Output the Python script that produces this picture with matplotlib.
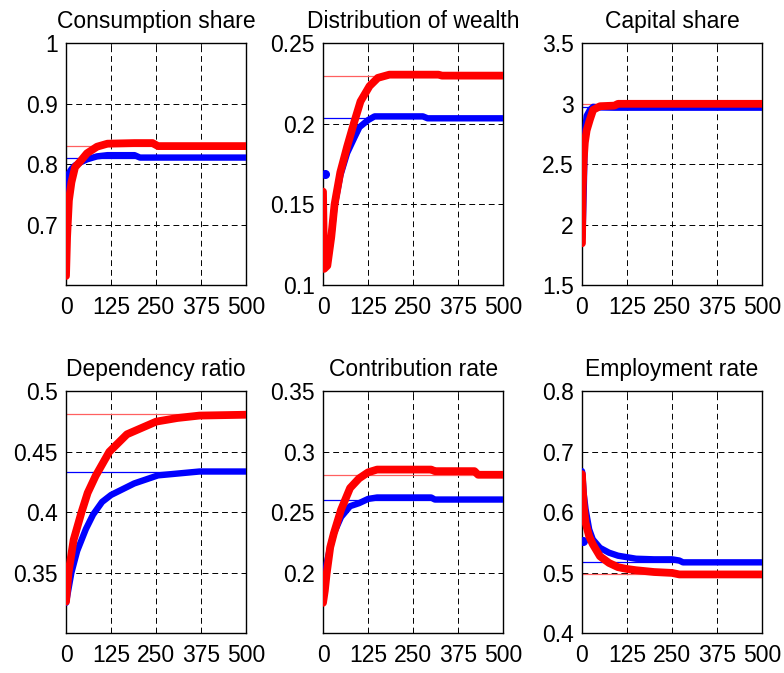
import numpy as np
import matplotlib
matplotlib.use("Agg")
import matplotlib.pyplot as plt

plt.rcParams['font.family'] = ['Liberation Sans', 'DejaVu Sans']

# --- dados (t = período) ---
# Consumption share
cons_t = [0, 3, 8, 15, 25, 40, 58, 86, 115, 190, 205, 240, 255, 500]
cons_blue = [0.755, 0.775, 0.785, 0.792, 0.798, 0.803, 0.808, 0.813, 0.815, 0.815, 0.811, 0.811, 0.811, 0.811]
cons_red = [0.615, 0.68, 0.74, 0.77, 0.795, 0.805, 0.818, 0.829, 0.834, 0.835, 0.835, 0.835, 0.830, 0.830]
cons_ss = (0.811, 0.830)

# Distribution of wealth
wealth_t_blue = [0, 3, 12, 23, 32, 48, 67, 88, 101, 125, 143, 277, 290, 500]
wealth_blue = [0.112, 0.110, 0.113, 0.130, 0.149, 0.168, 0.182, 0.192, 0.198, 0.2024, 0.2047, 0.2047, 0.2035, 0.2035]
wealth_t_red = [0, 3, 12, 23, 32, 48, 67, 85, 104, 129, 152, 184, 320, 330, 500]
wealth_red = [0.158, 0.110, 0.112, 0.130, 0.150, 0.170, 0.186, 0.200, 0.214, 0.2235, 0.2286, 0.2306, 0.2306, 0.2300, 0.2300]
wealth_blue0 = (5, 0.169)
wealth_ss = (0.2035, 0.2296)

# Capital share
cap_t = [0, 2, 5, 8, 13, 22, 31, 50, 90, 100, 500]
cap_blue = [1.88, 1.95, 2.3, 2.75, 2.90, 2.95, 2.975, 2.97, 2.968, 2.968, 2.968]
cap_red = [1.845, 2.3, 2.55, 2.68, 2.78, 2.87, 2.95, 2.98, 2.985, 3.0, 3.0]
cap_ss = (2.976, 3.0)

# Dependency ratio
dep_t_blue = [0, 15, 31, 55, 75, 100, 125, 189, 255, 309, 370, 500]
dep_blue = [0.325, 0.35, 0.368, 0.386, 0.398, 0.4085, 0.4143, 0.4238, 0.4305, 0.432, 0.4337, 0.4337]
dep_t_red = [0, 7, 21, 43, 60, 82, 120, 169, 250, 309, 370, 500]
dep_red = [0.326, 0.35, 0.377, 0.40, 0.416, 0.430, 0.45, 0.4645, 0.475, 0.478, 0.480, 0.4807]
dep_ss = (0.4337, 0.4815)

# Contribution rate
contr_t = [0, 5, 10, 20, 30, 50, 75, 100, 125, 150, 300, 310, 420, 430, 500]
contr_blue = [0.19, 0.198, 0.2075, 0.221, 0.2325, 0.246, 0.255, 0.2575, 0.261, 0.2622, 0.2622, 0.2605, 0.2605, 0.2605, 0.2605]
contr_red = [0.175, 0.185, 0.199, 0.221, 0.2325, 0.252, 0.27, 0.278, 0.283, 0.2853, 0.2853, 0.284, 0.284, 0.281, 0.281]
contr_ss = (0.2605, 0.281)

# Employment rate
emp_t = [0, 1, 5, 10, 20, 30, 50, 75, 100, 125, 150, 200, 250, 270, 280, 500]
emp_blue = [0.668, 0.665, 0.63, 0.605, 0.5715, 0.555, 0.541, 0.533, 0.528, 0.5255, 0.523, 0.522, 0.522, 0.520, 0.517, 0.517]
emp_red = [0.663, 0.65, 0.61, 0.5826, 0.56, 0.547, 0.527, 0.516, 0.509, 0.506, 0.504, 0.501, 0.4995, 0.497, 0.497, 0.497]
emp_blue0 = (4, 0.552)
emp_ss = (0.517, 0.497)

titulos = ['Consumption share', 'Distribution of wealth', 'Capital share',
           'Dependency ratio', 'Contribution rate', 'Employment rate']
limites_y = [(0.6, 1.0), (0.1, 0.25), (1.5, 3.5), (0.3, 0.5), (0.15, 0.35), (0.4, 0.8)]
ticks_y = [[0.7, 0.8, 0.9, 1], [0.1, 0.15, 0.2, 0.25], [1.5, 2, 2.5, 3, 3.5],
           [0.35, 0.4, 0.45, 0.5], [0.2, 0.25, 0.3, 0.35], [0.4, 0.5, 0.6, 0.7, 0.8]]
ticks_x = [0, 125, 250, 375, 500]

series = [
    (cons_t, cons_blue, cons_t, cons_red, cons_ss, None),
    (wealth_t_blue, wealth_blue, wealth_t_red, wealth_red, wealth_ss, wealth_blue0),
    (cap_t, cap_blue, cap_t, cap_red, cap_ss, None),
    (dep_t_blue, dep_blue, dep_t_red, dep_red, dep_ss, None),
    (contr_t, contr_blue, contr_t, contr_red, contr_ss, None),
    (emp_t, emp_blue, emp_t, emp_red, emp_ss, emp_blue0),
]

fig = plt.figure(figsize=(7.84, 6.73), dpi=100)

# posições dos eixos (em fração da figura)
lefts = [0.0842, 0.412, 0.7423]
bottoms = [0.5765, 0.0594]
w, h = 0.2300, 0.3590

for i, (tb, azul, tr, verm, ss, ponto0) in enumerate(series):
    ax = fig.add_axes([lefts[i % 3], bottoms[i // 3], w, h])
    # linhas de estado estacionário (finas)
    ax.axhline(ss[0], color='blue', lw=0.9, zorder=2)
    ax.axhline(ss[1], color='#ff6060', lw=0.9, zorder=2)
    ax.plot(tb, azul, color='blue', lw=4.6, solid_capstyle='round',
            solid_joinstyle='round', zorder=3)
    if ponto0 is not None:
        ax.plot([ponto0[0]], [ponto0[1]], 'o', color='blue', ms=5.5, zorder=3)
    ax.plot(tr, verm, color='red', lw=5.6, solid_capstyle='round',
            solid_joinstyle='round', zorder=4)

    ax.set_xlim(0, 500)
    ax.set_ylim(*limites_y[i])
    ax.set_xticks(ticks_x)
    ax.set_yticks(ticks_y[i])
    ax.set_yticklabels([('%g' % v) for v in ticks_y[i]])
    ax.grid(True, color='black', linestyle=(0, (6, 4)), lw=0.7)
    ax.tick_params(direction='in', length=3, width=0.6, labelsize=16.5,
                   top=True, right=True, pad=6)
    ax.tick_params(axis='x', pad=8)
    for s in ax.spines.values():
        s.set_linewidth(1.0)
    ax.set_title(titulos[i], fontsize=16.5, pad=11)

plt.savefig('out.png', dpi=100)
